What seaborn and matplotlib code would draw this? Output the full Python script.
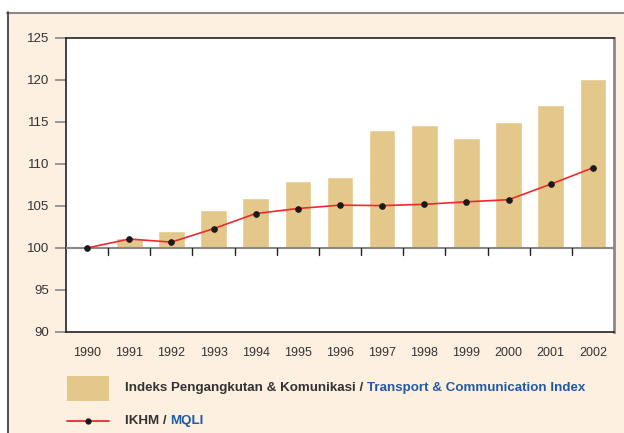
import numpy as np
import pandas as pd
import matplotlib
matplotlib.use("Agg")
import matplotlib.pyplot as plt
from matplotlib.patches import Rectangle
from matplotlib.lines import Line2D
import seaborn as sns

years = ["1990", "1991", "1992", "1993", "1994", "1995", "1996",
         "1997", "1998", "1999", "2000", "2001", "2002"]
transport_index = [100, 101.2, 102.0, 104.5, 106.0, 108.0, 108.5,
                   114.0, 114.6, 113.1, 115.0, 117.0, 120.1]
mqli = [100, 101.07, 100.7, 102.3, 104.1, 104.7, 105.1,
        105.05, 105.2, 105.5, 105.75, 107.6, 109.55]
yticks = [90, 95, 100, 105, 110, 115, 120, 125]
base = 100

sns.set_theme(style="white")
plt.rcParams['font.family'] = ['Liberation Sans', 'DejaVu Sans']

cream = "#FEF0E1"
tan = "#E4C78A"
red = "#EE2A2E"
blue = "#1F5AA6"
dark = "#333333"

fig = plt.figure(figsize=(6.24, 4.33), dpi=100, facecolor="white")
W, H = 624, 433
# cream panel with frame
fig.patches.append(Rectangle((7 / W, 0), 1 - 7 / W, 1 - 12 / H, transform=fig.transFigure,
                             facecolor=cream, edgecolor="none", zorder=-10))
fig.lines.append(Line2D([7 / W, 1], [1 - 12.5 / H, 1 - 12.5 / H], transform=fig.transFigure,
                        color="#8a8a8a", lw=1.5, zorder=-5))
fig.lines.append(Line2D([7.5 / W, 7.5 / W], [0, 1 - 12 / H], transform=fig.transFigure,
                        color="#333333", lw=1.2, zorder=-5))

ax = fig.add_axes([66 / W, 1 - 332 / H, (614 - 66) / W, (332 - 38) / H])
ax.set_facecolor("white")

df = pd.DataFrame({"year": years,
                   "h": [v - base for v in transport_index],
                   "mqli": mqli})
sns.barplot(data=df, x="year", y="h", bottom=base, color=tan, width=0.63,
            saturation=1, ax=ax, zorder=2)
sns.lineplot(x=np.arange(len(years)), y=df["mqli"], color=red, lw=1.2,
             marker="o", markersize=4, markerfacecolor="#1a1a1a",
             markeredgecolor="#1a1a1a", ax=ax, zorder=4)

ax.set_xlim(-0.5, len(years) - 0.5)
ax.set_ylim(90, 125)
ax.set_yticks(yticks)
ax.set_xlabel("")
ax.set_ylabel("")

# baseline at 100
ax.axhline(base, color="#888888", lw=1.5, zorder=3)
# boundary ticks on the baseline
for b in np.arange(0.5, len(years) - 1, 1.0):
    ax.plot([b, b], [base, base - 0.85], color="#222222", lw=1, zorder=3,
            clip_on=False)

ax.set_xticks(np.arange(len(years)))
ax.set_xticklabels(years)
ax.tick_params(axis="x", length=0, pad=11, labelsize=9, labelcolor=dark)
ax.tick_params(axis="y", length=8, width=1.2, color="#888888", pad=4,
               labelsize=9.5, labelcolor=dark, left=True)

for side in ["top", "left", "bottom"]:
    ax.spines[side].set_visible(True)
    ax.spines[side].set_color("#222222")
    ax.spines[side].set_linewidth(1.2)
ax.spines["right"].set_visible(True)
ax.spines["right"].set_color("#8a8a8a")
ax.spines["right"].set_linewidth(2)

# legend
fig.patches.append(Rectangle((67 / W, 1 - 401 / H), 42 / W, 25 / H, transform=fig.transFigure,
                             facecolor=tan, edgecolor="none"))
fig.lines.append(Line2D([67 / W, 109 / W], [1 - 421 / H, 1 - 421 / H], transform=fig.transFigure,
                        color=red, lw=1.3))
fig.lines.append(Line2D([88 / W], [1 - 421 / H], transform=fig.transFigure,
                        marker="o", markersize=3.5, color="#1a1a1a", lw=0))

t1 = fig.text(125 / W, 1 - 388 / H, "Indeks Pengangkutan & Komunikasi / ",
              fontsize=9.6, fontweight="bold", color=dark, va="center")
fig.canvas.draw()
ax.annotate("Transport & Communication Index", xy=(1, 0.5), xycoords=t1,
            fontsize=9.6, fontweight="bold", color=blue, va="center", ha="left",
            annotation_clip=False)
t2 = fig.text(125 / W, 1 - 421 / H, "IKHM / ", fontsize=9.6, fontweight="bold",
              color=dark, va="center")
ax.annotate("MQLI", xy=(1, 0.5), xycoords=t2, fontsize=9.6, fontweight="bold",
            color=blue, va="center", ha="left", annotation_clip=False)

fig.savefig("out.png", dpi=100, facecolor=fig.get_facecolor())
